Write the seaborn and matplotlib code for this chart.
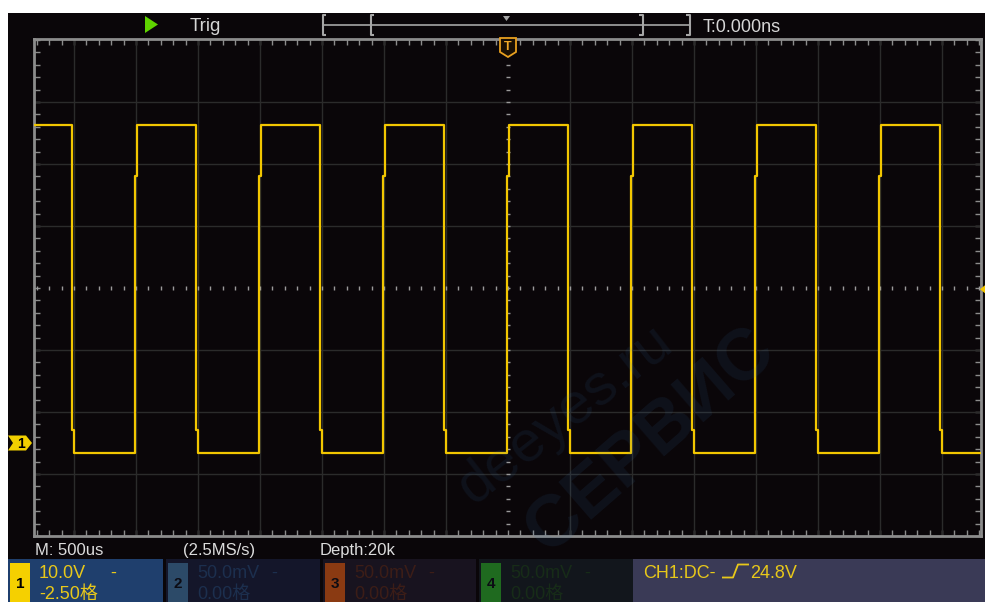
import numpy as np
import pandas as pd
import matplotlib
matplotlib.use("Agg")
import matplotlib.pyplot as plt
from matplotlib.patches import Rectangle, Polygon
from matplotlib.lines import Line2D
from matplotlib.ticker import MultipleLocator
import seaborn as sns

# ---------------- data ----------------
time_per_div_us = 500          # M: 500us
volts_per_div = 10.0           # CH1 10.0V/div
ch1_offset_div = -2.50         # CH1 position
trig_level_v = 24.8            # trigger level
rise_times_us = [-3000, -2000, -1000, 0, 1000, 2000, 3000]
fall_times_us = [-3500, -2500, -1500, -500, 500, 1500, 2500, 3500]
high_level_v = 51.3
low_level_v = -1.6
rise_step_v = 43.1             # small shoulder on rising edges
fall_step_v = 2.1              # small shoulder on falling edges
rise_lag_us = [-5, 5]
fall_lag_us = [-14, -2]

top_texts = ["Trig", "T:0.000ns"]
status_texts = ["M: 500us", "(2.5MS/s)", "Depth:20k"]
ch_scale = ["10.0V", "50.0mV", "50.0mV", "50.0mV"]
ch_pos = ["-2.50格", "0.00格", "0.00格", "0.00格"]
trig_info = ["CH1:DC-", "24.8V"]
watermark = ["deeyes.ru", "СЕРВИС"]

# ---------------- style ----------------
sns.set_style("dark")
plt.rcParams["font.family"] = ["Liberation Sans", "Noto Sans CJK SC", "DejaVu Sans"]

W, H = 985, 602
fig = plt.figure(figsize=(W / 100, H / 100), dpi=100)
fig.patch.set_facecolor("white")

def fx(x):
    return x / W

def fy(y):
    return 1 - y / H

def rect(x0, y0, x1, y1, color, z=1):
    fig.add_artist(Rectangle((fx(x0), fy(y1)), (x1 - x0) / W, (y1 - y0) / H,
                             transform=fig.transFigure, facecolor=color,
                             edgecolor="none", zorder=z))

def text(x, y, s, color, size, z=5, **kw):
    fig.text(fx(x), fy(y), s, color=color, fontsize=size, va="baseline",
             zorder=z, **kw)

def pline(pts, color, lw=1.5, z=5):
    fig.add_artist(Line2D([fx(p[0]) for p in pts], [fy(p[1]) for p in pts],
                          color=color, lw=lw, transform=fig.transFigure,
                          zorder=z, solid_capstyle="butt"))

BG = "#0a0609"
rect(8, 13, W, H, BG, z=-2)

# axes geometry (pixels): frame 34..981 x 39..536, centre at (508, 288), 62 px/div
L, R, T, B = 34, 981, 39, 536
CX, CY, DIV = 508, 288, 62.0
us_px = time_per_div_us / DIV
v_px = volts_per_div / DIV
v_center = -ch1_offset_div * volts_per_div
ax = fig.add_axes([fx(L), fy(B), (R - L) / W, (B - T) / H])
ax.set_facecolor(BG)
xlim = ((L - CX) * us_px, (R - CX) * us_px)
ylim = (v_center - (B - CY) * v_px, v_center + (CY - T) * v_px)
ax.set_xlim(*xlim)
ax.set_ylim(*ylim)

# grid
for k in range(-7, 8):
    if k != 0:
        ax.axvline(k * time_per_div_us, color="#2b2b2b", lw=1, zorder=1)
for k in range(-3, 4):
    if k != 0:
        ax.axhline(v_center + k * volts_per_div, color="#2b2b2b", lw=1, zorder=1)

# centre cross minor ticks
mx = np.arange(-7.6, 7.61, 0.2) * time_per_div_us
ax.plot(mx, np.full_like(mx, v_center), ls="none", marker="|", ms=3.2, mew=1,
        color="#9a9a9a", zorder=2)
my = v_center + np.arange(-4.0, 4.01, 0.2) * volts_per_div
ax.plot(np.zeros_like(my), my, ls="none", marker="_", ms=3.2, mew=1,
        color="#9a9a9a", zorder=2)

# frame ticks
ax.xaxis.set_major_locator(MultipleLocator(time_per_div_us))
ax.xaxis.set_minor_locator(MultipleLocator(time_per_div_us / 5))
ax.yaxis.set_major_locator(MultipleLocator(volts_per_div, offset=v_center % volts_per_div))
ax.yaxis.set_minor_locator(MultipleLocator(volts_per_div / 5, offset=v_center % (volts_per_div / 5)))
ax.tick_params(which="both", direction="in", length=4, width=1, color="#8c8c8c",
               top=True, right=True, bottom=True, left=True,
               labelbottom=False, labelleft=False)
for sp in ax.spines.values():
    sp.set_visible(True)
    sp.set_color("#8c8c8c")
    sp.set_linewidth(2)

# ---------------- waveform ----------------
edges = sorted([(t, "r") for t in rise_times_us] + [(t, "f") for t in fall_times_us])
ts = [xlim[0]]
vs = [high_level_v]
for t, kind in edges:
    if kind == "f":
        ts += [t + fall_lag_us[0], t + fall_lag_us[0], t + fall_lag_us[1], t + fall_lag_us[1]]
        vs += [high_level_v, fall_step_v, fall_step_v, low_level_v]
    else:
        ts += [t + rise_lag_us[0], t + rise_lag_us[0], t + rise_lag_us[1], t + rise_lag_us[1]]
        vs += [low_level_v, rise_step_v, rise_step_v, high_level_v]
ts.append(xlim[1])
vs.append(vs[-1])
df = pd.DataFrame({"t_us": ts, "v": vs, "pt": np.arange(len(ts))})
sns.lineplot(data=df, x="t_us", y="v", sort=False, estimator=None, color="#f2c600",
             lw=1.6, ax=ax, zorder=4)
ax.set_xlabel("")
ax.set_ylabel("")

# ---------------- markers ----------------
def data_to_px_y(v):
    return H - ax.transData.transform((0, v))[1]

y0 = data_to_px_y(0.0)
fig.add_artist(Polygon([(fx(8), fy(y0 - 7.5)), (fx(26), fy(y0 - 7.5)), (fx(32), fy(y0)),
                        (fx(26), fy(y0 + 7.5)), (fx(8), fy(y0 + 7.5)), (fx(13), fy(y0))],
                       closed=True, transform=fig.transFigure, facecolor="#f2d000",
                       edgecolor="none", zorder=6))
fig.text(fx(20.5), fy(y0 + 0.5), "1", color="black", fontsize=10, fontweight="bold",
         ha="center", va="center", zorder=7)

yt = data_to_px_y(trig_level_v)
fig.add_artist(Polygon([(fx(985), fy(yt - 4)), (fx(985), fy(yt + 4)), (fx(980), fy(yt))],
                       closed=True, transform=fig.transFigure, facecolor="#f2c600",
                       edgecolor="none", zorder=6))

# trigger position marker "T"
fig.add_artist(Polygon([(fx(500), fy(38)), (fx(516), fy(38)), (fx(516), fy(52)),
                        (fx(508), fy(57)), (fx(500), fy(52))], closed=True,
                       transform=fig.transFigure, facecolor="#1a1004",
                       edgecolor="#e8a020", lw=1.3, zorder=6))
fig.text(fx(508), fy(46.5), "T", color="#f0a828", fontsize=9, fontweight="bold",
         ha="center", va="center", zorder=7)

# ---------------- top bar ----------------
fig.add_artist(Polygon([(fx(145), fy(16)), (fx(145), fy(33)), (fx(158), fy(24.5))],
                       closed=True, transform=fig.transFigure, facecolor="#5fd400",
                       edgecolor="none", zorder=6))
text(190, 31, top_texts[0], "#d6d6d6", 13.5)
text(703, 32, top_texts[1], "#d6d6d6", 13)
gc = "#a6a6a6"
pline([(326, 15), (322.5, 15), (322.5, 35), (326, 35)], gc)
pline([(323, 25), (690, 25)], gc, lw=1.2)
pline([(374, 15), (370.5, 15), (370.5, 35), (374, 35)], gc)
pline([(639, 15), (642.5, 15), (642.5, 35), (639, 35)], gc)
pline([(686, 15), (689.5, 15), (689.5, 35), (686, 35)], gc)
fig.add_artist(Polygon([(fx(503), fy(16)), (fx(510), fy(16)), (fx(506.5), fy(21))],
                       closed=True, transform=fig.transFigure, facecolor=gc,
                       edgecolor="none", zorder=6))

# ---------------- status line ----------------
text(35, 555, status_texts[0], "#dcdcdc", 12)
text(183, 555, status_texts[1], "#dcdcdc", 12)
text(320, 555, status_texts[2], "#dcdcdc", 12)

# ---------------- channel boxes ----------------
boxes = [
    (8, 163, "#1f3f6d", "#f5d000", "#e8c81a", "black"),
    (166, 320, "#14162a", "#2c4a68", "#1c2f4e", "#0c0c14"),
    (323, 476, "#18131f", "#8a3a12", "#3c1d17", "#0c0c14"),
    (479, 633, "#12161c", "#1f6a1f", "#172c18", "#0c0c14"),
]
for i, (x0, x1, bc, badge, tc, nc) in enumerate(boxes):
    rect(x0, 559, x1, H, bc, z=2)
    rect(x0 + 2, 563, x0 + 22, H, badge, z=3)
    fig.text(fx(x0 + 12), fy(584), str(i + 1), color=nc, fontsize=11, fontweight="bold",
             ha="center", va="center", zorder=5)
    text(x0 + 31, 578, ch_scale[i], tc, 13)
    text(x0 + 102 if i == 0 else x0 + 105, 578, "-", tc, 13)
    text(x0 + 31, 599, ch_pos[i], tc, 13)

rect(633, 559, W, H, "#3a3a56", z=2)
yc = "#e8c81a"
text(643, 578, trig_info[0], yc, 13)
pline([(722, 577.5), (733, 577.5), (738, 564.5), (749, 564.5)], yc, lw=1.3)
text(750, 578, trig_info[1], yc, 13)

# ---------------- watermark (very faint) ----------------
fig.text(fx(565), fy(415), watermark[0], rotation=38, color="#3a78b8", alpha=0.10,
         fontsize=42, ha="center", va="center", zorder=3)
fig.text(fx(650), fy(440), watermark[1], rotation=41, color="#3a78b8", alpha=0.10,
         fontsize=52, fontweight="bold", ha="center", va="center", zorder=3)

fig.savefig("out.png", dpi=100, facecolor=fig.get_facecolor())
